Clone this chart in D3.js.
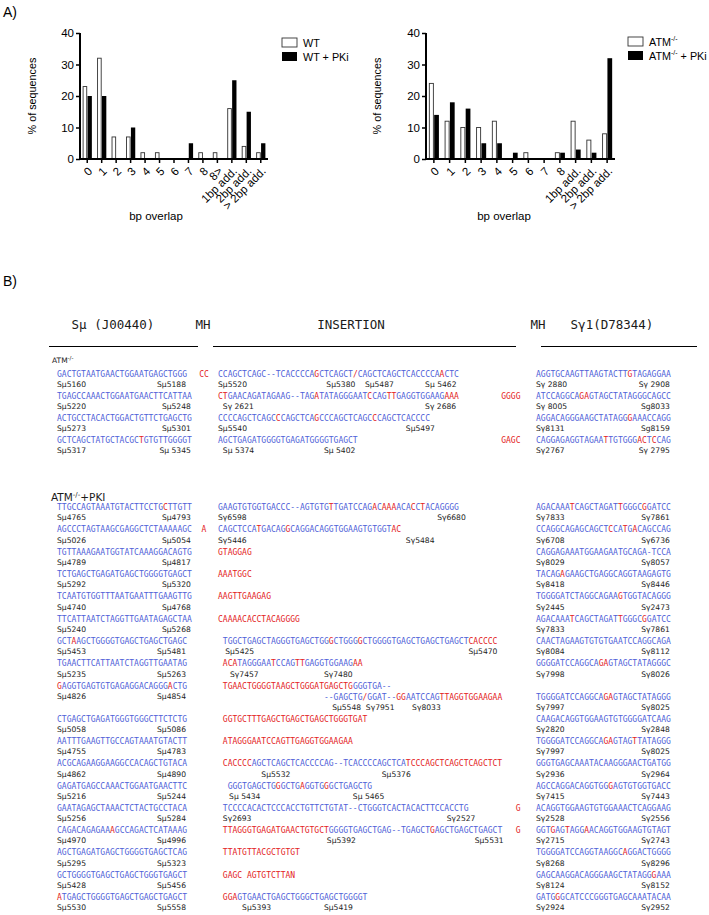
<!DOCTYPE html>
<html><head><meta charset="utf-8">
<script src="https://cdn.jsdelivr.net/npm/d3@7"></script>
<style>body{margin:0;background:#fff}svg{display:block}</style>
</head><body>
<svg id="fig" width="709" height="915"></svg>
<script>
// ---------- Panel A data ----------
const catsWT = ["0","1","2","3","4","5","6","7","8","8>","1bp add.","2bp add.","> 2bp add."];
const wtVals = [23,32,7,7,2,2,0,0,2,2,16,4,2];
const wtPkiVals = [20,20,0,10,0,0,0,5,0,0,25,15,5];
const catsATM = ["0","1","2","3","4","5","6","7","8","1bp add.","2bp add.","> 2bp add."];
const atmVals = [24,12,10,10,12,0,2,0,2,12,6,8];
const atmPkiVals = [14,18,16,5,5,2,0,0,2,3,2,32];
const yTicks = [0,10,20,30,40];

// ---------- Panel B data ----------
// row: [Smu seq, left label, right label, MH1, insertion, insertion labels [text, alignment column], MH2, Sgamma seq, left label, right label]
// {..} = mismatched / inserted bases (red)
const headerTexts = ["S\u03bc (J00440)","MH","INSERTION","MH","S\u03b31(D78344)"];
const atmRows = [
 ["GACTGTAATGAACTGGAATGAGCTGGG","S\u03bc5160","S\u03bc5188","CC","CCAGCTCAGC--TCACCCCA{G}CTCAGCT{/}CAGCTCAGCTCACCCCA{A}CTC",[["S\u03bc5520",0],["S\u03bc5380",22.5],["S\u03bc5487",30.5],["S\u03bc 5462",43]],"","AGGTGCAAGTTAAGTACTT{G}TAGAGGAA","S\u03b3 2880","S\u03b3 2908"],
 ["TGAGCCAAACTGGAATGAACTTCATTAA","S\u03bc5220","S\u03bc5248","","{CT}GAACAGATAGAAG--TAG{A}TATAGGGAAT{C}CAG{TT}GAGGTGGAAG{AAA}",[["S\u03b3 2621",1],["S\u03b3 2686",43]],"GGGG","ATCCAGGCA{GA}GTAGCTATAGGGCAGCC","S\u03b3 8005","Sg8033"],
 ["ACTGCCTACACTGGACTGTTCTGAGCTG","S\u03bc5273","S\u03bc5301","","CCCCAGCTCAGC{C}CAGCTCA{G}CCCAGCTCAGC{C}CAGCTCACCCC",[["S\u03bc5540",0],["S\u03bc5497",39]],"","AGGACAGGGAAGCTATAGG{G}AAACCAGG","S\u03b38131","Sg8159"],
 ["GCTCAGCTATGCTACGC{T}GTGTTGGGGT","S\u03bc5317","S\u03bc 5345","","AGCTGAGATGGGGTGAGATGGGGTGAGCT",[["S\u03bc 5374",1],["S\u03bc 5402",22]],"GAGC","CAGGAGAGGTAGAA{T}TGTGGG{AC}T{C}CAG","S\u03b32767","S\u03b3 2795"]
];
const pkiRows = [
 ["TTGCCAGTAAATGTACTTCCTG{C}TTGTT","S\u03bc4765","S\u03bc4793","","GAAGTGTGGTGACCC--AGTGTG{T}TGATCCAG{A}C{AAA}ACA{C}C{T}ACAGGGG",[["S\u03b36598",0],["S\u03b36680",45.5]],"","AGACAAA{T}CAGCTAGAT{T}GGGC{G}GATCC","S\u03b37833","S\u03b37861"],
 ["AGCCCTAGTAAGCGAGGCTCTAAAAAGC","S\u03bc5026","S\u03bc5054","A","CAGCTCCA{T}GACAG{G}CAGGACAGGTGGAAGTGTGGT{AC}",[["S\u03b35446",0],["S\u03b35484",39]],"","CCAGGCAGAGCAGCT{C}CA{T}G{A}CAGCCAG","S\u03b36708","S\u03b36736"],
 ["TGTTAAAGAATGGTATCAAAGGACAGTG","S\u03bc4789","S\u03bc4817","","{GTAGGAG}",[],"","CAGGAGAAATGGAAGAATGCAGA-TCCA","S\u03b38029","S\u03b38057"],
 ["TCTGAGCTGAGATGAGCTGGGGTGAGCT","S\u03bc5292","S\u03bc5320","","{AAATGGC}",[],"","TACAG{A}GAAGCTGAGGCAGGTAAGAGTG","S\u03b38418","S\u03b38446"],
 ["TCAATGTGGTTTAATGAATTTGAAGTTG","S\u03bc4740","S\u03bc4768","","{AAGTTGAAGAG}",[],"","TGGGGATCTAGGCAGAA{G}TGGTACAGGG","S\u03b32445","S\u03b32473"],
 ["TTCATTAATCTAGGTTGAATAGAGCTAA","S\u03bc5240","S\u03bc5268","","{CAAAACACCTACAGGGG}",[],"","AGACAAA{T}CAGCTAGAT{T}GGGC{G}GATCC","S\u03b37833","S\u03b37861"],
 ["GCT{A}AGCTGGGGTGAGCTGAGCTGAGC","S\u03bc5453","S\u03bc5481",""," TGGCTGAGCTAGGGTGAGCTGG{G}CTGGG{G}CTGGGGTGAGCTGAGCTGAGCT{CACCCC}",[["S\u03bc5425",1.5],["S\u03bc5470",52]],"","CAACTAGAAGTGTGTGAATCCAGGCAGA","S\u03b38084","S\u03b38112"],
 ["TGAACTTCATTAATCTAGGTTGAATAG","S\u03bc5235","S\u03bc5263",""," {ACA}TAGGGAA{T}CCAG{TT}GAGGTGGAAG{AA}",[["S\u03b37457",2.5],["S\u03b37480",22]],"","GGGGATCCAGGCA{GA}GTAGCTATAGGGC","S\u03b37998","S\u03b38026"],
 ["{G}AGGTGAGTGTGAGAGGACAGGG{A}CTG","S\u03bc4826","S\u03bc4854","",[" {TGAACTGGGGTAAGCTGGGATGAGCTG}GGGTGA--","                      --GAGCTG{/}GGAT--{GG}AATCCAG{TTAGGTGGAAGAA}"],[["S\u03bc5548",23.7],["S\u03b37951",30.7],["S\u03b38033",40.3]],"","TGGGGATCCAGGCA{GA}GTAGCTATAGGG","S\u03b37997","S\u03b38025"],
 ["CTGAGCTGAGATGGGTGGGCTTCTCTG","S\u03bc5058","S\u03bc5086",""," {GGTGCTTTGAGCTGAGCTGAGCTGGGTGAT}",[],"","CAAGACAGGTGGAAGTGTGGGGATCAAG","S\u03b32820","S\u03b32848"],
 ["AATTTGAAGTTGCCAGTAAATGTACTT","S\u03bc4755","S\u03bc4783",""," {ATAGGGAATCCAGTTGAGGTGGAAGAA}",[],"","TGGGGATCCAGGCA{GA}GTAG{T}TATAGGG","S\u03b37997","S\u03b38025"],
 ["ACGCAGAAGGAAGGCCACAGCTGTACA","S\u03bc4862","S\u03bc4890",""," {CACCCC}AGCTCAGCTCACCCCAG--TCACCCCAGCTCA{TCCCAGCTCAGCTCAGCTCT}",[["S\u03bc5532",9],["S\u03bc5376",34]],"","GGGTGAGCAAATACAAGGGAACTGATGG","S\u03b32936","S\u03b32964"],
 ["GAGATGAGCCAAACTGGAATGAACTTC","S\u03bc5216","S\u03bc5244","","  GGGTGAGCTG{G}GCTG{A}GGTG{G}GCTGAGCTG",[["S\u03bc 5434",2.3],["S\u03bc 5465",28]],"","AGCCAGGACAGGTGG{G}AGTGTGGTGACC","S\u03b37415","S\u03b37443"],
 ["GAATAGAGCTAAACTCTACTGCCTACA","S\u03bc5256","S\u03bc5284",""," TCCCCACACTCCCACCTGTTCTGTAT--CTGGGTCACTACACTTCCACCTG",[["S\u03b32693",1],["S\u03b32527",47.5]],"G","ACAGGTGGAAGTGTGGAAACTCAGGAAG","S\u03b32528","S\u03b32556"],
 ["CAGACAGAGAA{A}GCCAGACTCATAAAG","S\u03bc4970","S\u03bc4996",""," {TTAGGGTGAGATGAACTGTGCT}GGGGTGAGCTGAG--TGAGCT{G}AGCTGAGCTGAGCT",[["S\u03bc5392",22.6],["S\u03bc5531",53.3]],"G","GGT{G}AG{T}AGG{A}ACAGGTGGAAGTGTAGT","S\u03b32715","S\u03b32743"],
 ["AGCTGAGATGAGCTGGGGTGAGCTCAG","S\u03bc5295","S\u03bc5323",""," {TTATGTTACGCTGTGT}",[],"","TGGGGATCCAGGTAAGGC{A}GGACTGGGG","S\u03b38268","S\u03b38296"],
 ["GCTGGGGTGAGCTGAGCTGGGTGAGCT","S\u03bc5428","S\u03bc5456",""," {GAGC AGTGTCTTAN}",[],"","GAGCAAGGACAGGGAAGCTATAGG{G}AAA","S\u03b38124","S\u03b38152"],
 ["{A}TGAGCTGGGGTGAGCTGAGCTGAGCT","S\u03bc5530","S\u03bc5558",""," {GGA}GTGAACTGAGCTGGGCTGAGCTGGGGT",[["S\u03bc5393",5],["S\u03bc5419",22]],"","GATG{G}GCATCCCGGGTGAGCAAATACAA","S\u03b32924","S\u03b32952"]
];

// ---------- drawing ----------
const svg = d3.select("#fig");
const SANS = "'Liberation Sans', Arial, Helvetica, sans-serif";
const MONO = "'DejaVu Sans Mono', monospace";
const LBL = "'DejaVu Sans', Verdana, sans-serif";
const BLUE = "#4f5fd8", RED = "#e3221d", INK = "#1a1a1a";

svg.append("text").attr("x",3).attr("y",17).attr("font-family",SANS).attr("font-size",14).text("A)");
svg.append("text").attr("x",3).attr("y",286).attr("font-family",SANS).attr("font-size",14).text("B)");

function barChart(o){
  const y = d3.scaleLinear().domain([0,40]).range([159,33]);
  const x = d3.scaleBand().domain(o.cats).range([o.x0,o.x1]).paddingInner(0.36).paddingOuter(0.18);
  const xs = d3.scaleBand().domain([0,1]).range([0,x.bandwidth()]);
  const g = svg.append("g");
  const rows = o.cats.map((c,i)=>({c, v:[o.a[i], o.b[i]]}));
  const grp = g.selectAll("g.grp").data(rows).join("g").attr("class","grp")
    .attr("transform",d=>`translate(${x(d.c)},0)`);
  grp.selectAll("rect").data(d=>d.v.map((v,k)=>({v,k})).filter(e=>e.v>0)).join("rect")
    .attr("x",d=>xs(d.k)+(d.k===0?0.5:0.3))
    .attr("width",d=>xs.bandwidth()-(d.k===0?1:0.3))
    .attr("y",d=>y(d.v)).attr("height",d=>y(0)-y(d.v))
    .attr("fill",d=>d.k?"#000":"#fff")
    .attr("stroke",d=>d.k?"none":"#333").attr("stroke-width",0.9);

  const ya = g.append("g").attr("transform",`translate(${o.x0},0)`)
    .call(d3.axisLeft(y).tickValues(yTicks).tickSize(4).tickSizeOuter(0).tickPadding(2));
  const xa = g.append("g").attr("transform",`translate(0,${y(0)})`)
    .call(d3.axisBottom(x).tickSize(4).tickSizeOuter(0));
  [ya,xa].forEach(a=>{
    a.attr("font-family",SANS).attr("font-size",11.5);
    a.select(".domain").attr("stroke","#000").attr("stroke-width",2);
    a.selectAll(".tick line").attr("stroke","#000").attr("stroke-width",1.5);
    a.selectAll(".tick text").attr("fill","#000");
  });
  ya.select(".domain").attr("d",`M0,${y(0)+1}V${y(40)}`);
  xa.select(".domain").attr("d",`M${o.x0-1},0H${o.x1}`);
  xa.selectAll(".tick text").attr("x",0).attr("y",0).attr("dy","0.35em")
    .attr("text-anchor","end").attr("transform","translate(3,10) rotate(-45)");

  g.append("text").attr("transform",`translate(${o.ylx},96) rotate(-90)`)
    .attr("text-anchor","middle").attr("dy","0.35em").attr("font-family",SANS).attr("font-size",10.8)
    .text("% of sequences");
  g.append("text").attr("x",o.xlx).attr("y",216).attr("dy","0.35em").attr("text-anchor","middle")
    .attr("font-family",SANS).attr("font-size",11.5).text("bp overlap");

  // legend
  o.legend.forEach((lg,k)=>{
    const ly = o.ly + k*14;
    g.append("rect").attr("x",o.lx).attr("y",ly).attr("width",15).attr("height",9)
      .attr("fill",k?"#000":"#fff").attr("stroke",k?"none":"#333").attr("stroke-width",0.9);
    const t = g.append("text").attr("x",o.lx+21).attr("y",ly+8.5)
      .attr("font-family",SANS).attr("font-size",10.8);
    let raised = false;
    lg.forEach(seg=>{
      const sp = t.append("tspan").text(seg.t);
      if(seg.sup){ sp.attr("font-size",7).attr("dy",-4.5); raised = true; }
      else if(raised){ sp.attr("dy",4.5); raised = false; }
    });
  });
}

barChart({cats:catsWT, a:wtVals, b:wtPkiVals, x0:80, x1:268, ylx:32, xlx:156,
  lx:282, ly:38, legend:[[{t:"WT"}],[{t:"WT + PKi"}]]});
barChart({cats:catsATM, a:atmVals, b:atmPkiVals, x0:426, x1:615, ylx:377, xlx:504,
  lx:628, ly:37, legend:[[{t:"ATM"},{t:"-/-",sup:true}],[{t:"ATM"},{t:"-/-",sup:true},{t:" + PKi"}]]});

// ---------- Panel B ----------
const probe = svg.append("text").attr("font-family",MONO).attr("font-size",8).text("ACGTACGTACGTACGTACGTACGTACGTACGTACGTACGT");
const CW = probe.node().getComputedTextLength()/40;
probe.remove();

const hdrX = [113,203,351,538,612];
const hdr = svg.append("g").attr("font-family",MONO).attr("font-size",12.5).attr("fill",INK);
headerTexts.forEach((t,i)=>hdr.append("text").attr("x",hdrX[i]).attr("y",325).attr("dy","0.35em")
  .attr("text-anchor","middle").text(t));
[[49,198],[213,516],[541,697]].forEach(([a,b])=>hdr.append("line").attr("x1",a).attr("x2",b)
  .attr("y1",346.5).attr("y2",346.5).attr("stroke","#000").attr("stroke-width",1));

const colL = d3.scaleLinear().domain([0,1]).range([57,57+CW]);
const colI = d3.scaleLinear().domain([0,1]).range([218,218+CW]);
const colR = d3.scaleLinear().domain([0,1]).range([536,536+CW]);
const plain = s=>s.replace(/[{}]/g,"");

function seq(g,str,x,y,anchor,allRed){
  const t = g.append("text").attr("x",x).attr("y",y).attr("dy","0.35em")
    .attr("font-family",MONO).attr("font-size",8).style("white-space","pre");
  if(anchor) t.attr("text-anchor",anchor);
  str.split(/(\{[^}]*\})/).filter(s=>s.length).forEach(s=>{
    const red = allRed || s.startsWith("{");
    t.append("tspan").attr("fill",red?RED:BLUE).text(s.replace(/[{}]/g,""));
  });
}
function lbl(g,txt,x,y,anchor){
  g.append("text").attr("x",x).attr("y",y).attr("dy","0.35em").attr("font-family",LBL)
    .attr("font-size",7.6).attr("fill",INK).attr("text-anchor",anchor||"start").text(txt);
}
function drawRow(g,r,y){
  const [L,lL,lR,mh1,ins,insL,mh2,R,rL,rR] = r;
  seq(g,L,colL(0),y);
  lbl(g,lL,colL(0),y+10.5); lbl(g,lR,colL(plain(L).length)-1,y+10.5,"end");
  if(mh1) seq(g,mh1,204,y,"middle",true);
  const lines = Array.isArray(ins)?ins:[ins];
  lines.forEach((s,k)=>seq(g,s,colI(0),y+k*11));
  const yL = y + (lines.length-1)*11;
  insL.forEach(([t,c])=>lbl(g,t,colI(c),yL+10.5));
  if(mh2) seq(g,mh2,520.5,y,"end",true);
  seq(g,R,colR(0),yL);
  lbl(g,rL,colR(0),yL+10.5); lbl(g,rR,colR(plain(R).length)-1,yL+10.5,"end");
}

const gB = svg.append("g");
const tA = gB.append("text").attr("x",52).attr("y",363).attr("font-family",LBL).attr("font-size",7.5).attr("fill",INK);
tA.append("tspan").text("ATM"); tA.append("tspan").attr("font-size",5.5).attr("dy",-3).text("-/-");
const yA = d3.scaleLinear().domain([0,3]).range([374,440]);
atmRows.forEach((r,i)=>drawRow(gB,r,yA(i)));

const tP = gB.append("text").attr("x",51).attr("y",501).attr("font-family",LBL).attr("font-size",10.5).attr("fill",INK);
tP.append("tspan").text("ATM"); tP.append("tspan").attr("font-size",7).attr("dy",-4).text("-/-");
tP.append("tspan").attr("dy",4).text("+PKI");
const yP1 = d3.scaleLinear().domain([0,8]).range([507,686]);
const yP2 = d3.scaleLinear().domain([9,17]).range([719,897]);
pkiRows.forEach((r,i)=>drawRow(gB,r,i<9?yP1(i):yP2(i)));
</script>
</body></html>
